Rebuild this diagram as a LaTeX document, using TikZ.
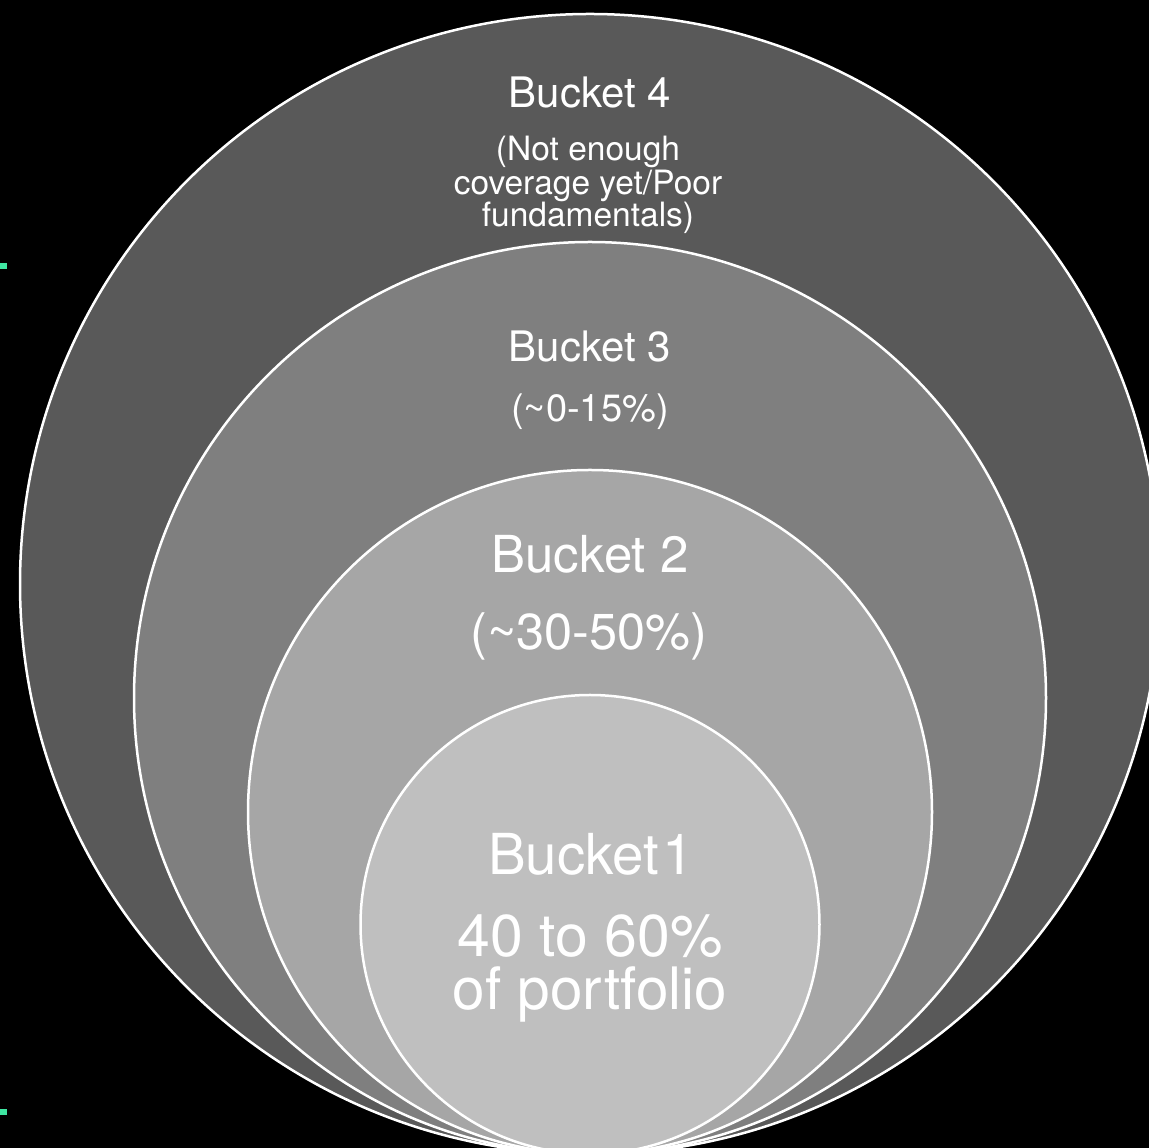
\documentclass[tikz,border=0pt]{standalone}
\usepackage{fontspec}
\setmainfont{TeX Gyre Heros}
\begin{document}
\begin{tikzpicture}[x=1pt,y=1pt,
  ring/.style={draw=white,line width=2.5pt},
  lbl/.style={text=white,anchor=base,inner sep=0pt,align=center}]
\definecolor{mintmark}{HTML}{3FE6A2}
\definecolor{gfour}{HTML}{595959}
\definecolor{gthree}{HTML}{7F7F7F}
\definecolor{gtwo}{HTML}{A6A6A6}
\definecolor{gone}{HTML}{BFBFBF}
\fill[black] (0,0) rectangle (1149,1148);
\useasboundingbox (0,0) rectangle (1149,1148);
% green marks
\fill[mintmark] (0,879) rectangle (7,885);
\fill[mintmark] (0,33) rectangle (7,39);
% circles
\path[ring,fill=gfour] (590,564) circle[radius=570];
\path[ring,fill=gthree] (590,450) circle[radius=456];
\path[ring,fill=gtwo] (590,336) circle[radius=342];
\path[ring,fill=gone] (590,223.5) circle[radius=229.5];
% labels
\node[lbl,font=\fontsize{42}{42}\selectfont] (b4) at (590,1040) {Bucket 4};
\node[lbl,font=\fontsize{33.5}{33}\selectfont] (b4a) at (588,987) {(Not enough};
\node[lbl,font=\fontsize{33.5}{33}\selectfont] (b4b) at (588,953) {coverage yet/Poor};
\node[lbl,font=\fontsize{33.5}{33}\selectfont] (b4c) at (588,921) {fundamentals)};
\node[lbl,font=\fontsize{42}{42}\selectfont] (b3) at (590,786) {Bucket 3};
\node[lbl,font=\fontsize{38}{38}\selectfont] (b3a) at (590,726) {(\textasciitilde0-15\%)};
\node[lbl,font=\fontsize{51}{51}\selectfont] (b2) at (590,575) {Bucket 2};
\node[lbl,font=\fontsize{50.5}{50}\selectfont] (b2a) at (589,498) {(\textasciitilde30-50\%)};
\node[lbl,font=\fontsize{56.5}{56}\selectfont] (b1) at (591,273) {Bucket\kern3pt1};
\node[lbl,font=\fontsize{59}{59}\selectfont] (b1a) at (590,191) {40 to 60\%};
\node[lbl,font=\fontsize{58.5}{58}\selectfont] (b1b) at (590,138) {of portfolio};
\end{tikzpicture}
\end{document}
